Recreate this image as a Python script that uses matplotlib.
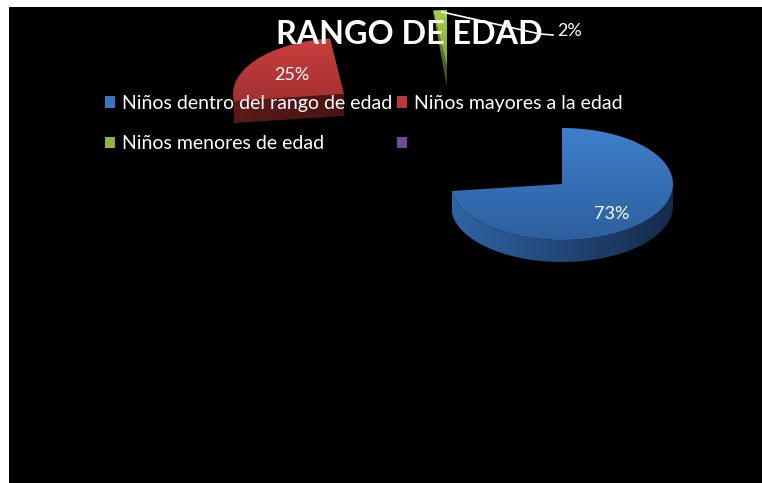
import numpy as np
import matplotlib
matplotlib.use("Agg")
import matplotlib.pyplot as plt
from matplotlib.patches import Polygon, Patch
from matplotlib.colors import LinearSegmentedColormap as LSC

W, H = 762, 483
title = "RANGO DE EDAD"
categories = ["Niños dentro del rango de edad", "Niños mayores a la edad", "Niños menores de edad", " "]
shares = [73, 25, 2, 0]
labels = ["73%", "25%", "2%"]
top_colors = [("#3f7fcc", "#2d5f9e"), ("#c93f3c", "#a33130"), ("#a6cf45", "#80a332")]
side_colors = [("#2f64a6", "#142a4a"), ("#5a1a19", "#481413"), ("#8fb53a", "#2f3d12")]
legend_colors = ["#3a75bd", "#b83a38", "#8fb53a", "#6f4c9b"]
apex = [(562, 184), (344, 94), (447, 66)]
label_pos = [(612, 214), (292, 75), (570, 31)]
RX, RY, DEPTH = 111, 56, 22

plt.rcParams["font.family"] = ["Lato", "DejaVu Sans"]
fig = plt.figure(figsize=(W / 100, H / 100), dpi=100, facecolor="white")
ax = fig.add_axes([0, 0, 1, 1])
ax.set_xlim(0, W); ax.set_ylim(H, 0); ax.axis("off")
ax.add_patch(plt.Rectangle((9, 7), W - 9, H - 7, fc="black", ec="none", zorder=0))


def fill(poly, c1, c2, horizontal=False, z=2):
    poly = np.asarray(poly, dtype=float)
    x0, y0 = poly.min(axis=0); x1, y1 = poly.max(axis=0)
    grad = np.linspace(0, 1, 256)
    grad = grad[None, :] if horizontal else grad[:, None]
    clip = Polygon(poly, transform=ax.transData, fc="none", ec="none")
    ax.add_patch(clip)
    im = ax.imshow(grad, extent=(x0, x1, y1, y0), cmap=LSC.from_list("g", [c1, c2]),
                   aspect="auto", zorder=z, interpolation="bilinear")
    im.set_clip_path(clip)


def arc(c, a0, a1):
    t = np.radians(np.linspace(a0, a1, 120))
    return np.column_stack([c[0] + RX * np.cos(t), c[1] - RY * np.sin(t)])


start = 90.0
for i, share in enumerate(shares[:3]):
    sweep = 360 * share / sum(shares)
    a0, a1 = start - sweep, start
    start = a0
    c = apex[i]
    edge = arc(c, a1, a1)[0]
    if i == 0:
        rim = arc(c, a0 % 360, 360)
        side = np.vstack([rim, rim[::-1] + [0, DEPTH]])
        fill(side, *side_colors[i], horizontal=True)
    elif i == 1:
        side = np.array([edge, c, [c[0], c[1] + DEPTH], edge + [0, DEPTH]])
        fill(side, *side_colors[i], horizontal=True)
    else:
        side = np.array([edge, c, [c[0], c[1] + DEPTH]])
        fill(side, *side_colors[i])
    top = np.vstack([[c], arc(c, a0, a1)])
    fill(top, *top_colors[i], z=3)

for lab, pos in zip(labels, label_pos):
    ax.text(*pos, lab, color="white", fontsize=13, ha="center", va="center", zorder=6)
ax.plot([442, 540, 553], [12, 34, 35], color="white", lw=1.2, zorder=6)

ax.text(409, 35, title, color="white", fontsize=23.2, fontweight="bold", ha="center", va="center", zorder=7)

handles = [Patch(fc=legend_colors[0]), Patch(fc=legend_colors[2]),
           Patch(fc=legend_colors[1]), Patch(fc=legend_colors[3])]
names = [categories[0], categories[2], categories[1], categories[3]]
leg = ax.legend(handles, names, ncol=2, loc="upper left", bbox_to_anchor=(105 / W, 1 - 95 / H),
                frameon=False, fontsize=14, labelcolor="white", handlelength=0.52, handleheight=0.52,
                handletextpad=0.38, columnspacing=0.2, labelspacing=1.2, borderpad=0, borderaxespad=0)
leg.set_zorder(5)

fig.savefig("out.png", dpi=100, facecolor="white")
